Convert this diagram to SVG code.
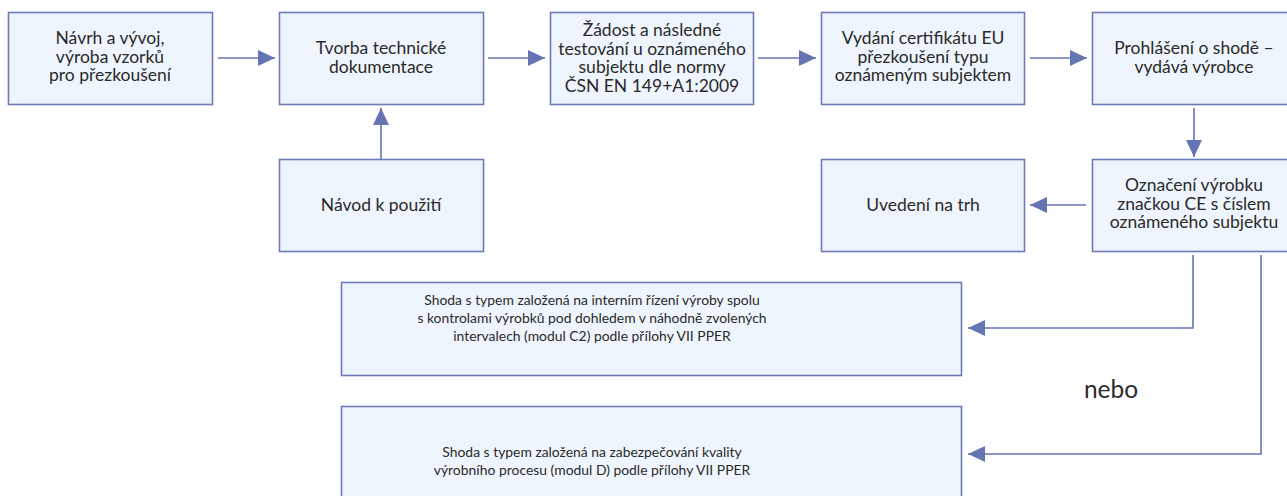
<svg xmlns="http://www.w3.org/2000/svg" width="1287" height="496" viewBox="0 0 1287 496">
<defs>
<style>
.box{fill:#eef5fc;stroke:#6c7bb6;stroke-width:1.6}
.t{font-family:Lato,"Open Sans","Liberation Sans",sans-serif;font-size:17.5px;fill:#2a2a2a;text-anchor:middle}
.s{font-family:Lato,"Open Sans","Liberation Sans",sans-serif;font-size:13.9px;fill:#2a2a2a;text-anchor:middle}
.n{font-family:Lato,"Open Sans","Liberation Sans",sans-serif;font-size:24.5px;fill:#2a2a2a;text-anchor:middle}
.c{fill:none;stroke:#6574b3;stroke-width:1.6}
</style>
<marker id="ah" viewBox="0 0 17 16" refX="17" refY="8" markerWidth="17" markerHeight="16" markerUnits="userSpaceOnUse" orient="auto">
<path d="M0,0 L17,8 L0,16 Z" fill="#6574b3"/>
</marker>
</defs>
<rect width="1287" height="496" fill="#fff"/>
<g id="n1"><rect class="box" x="8.5" y="12.5" width="204" height="92"/>
<text class="t" x="110" y="44">Návrh a vývoj,</text><text class="t" x="110" y="62.5">výroba vzorků</text><text class="t" x="110" y="81">pro přezkoušení</text></g>
<g id="n2"><rect class="box" x="279.5" y="12.5" width="204" height="92"/>
<text class="t" x="381" y="54">Tvorba technické</text><text class="t" x="381" y="72.5">dokumentace</text></g>
<g id="n3"><rect class="box" x="550.5" y="12.5" width="203" height="92"/>
<text class="t" x="652" y="36">Žádost a následné</text><text class="t" x="652" y="54.5">testování u oznámeného</text><text class="t" x="652" y="73">subjektu dle normy</text><text class="t" x="652" y="91.5">ČSN EN 149+A1:2009</text></g>
<g id="n4"><rect class="box" x="821.5" y="12.5" width="203" height="92"/>
<text class="t" x="923" y="44">Vydání certifikátu EU</text><text class="t" x="923" y="62.5">přezkoušení typu</text><text class="t" x="923" y="81">oznámeným subjektem</text></g>
<g id="n5"><rect class="box" x="1092.5" y="12.5" width="204" height="92"/>
<text class="t" x="1194" y="54">Prohlášení o shodě –</text><text class="t" x="1194" y="72.5">vydává výrobce</text></g>
<g id="n6"><rect class="box" x="279.5" y="159.5" width="204" height="92"/>
<text class="t" x="381" y="211">Návod k použití</text></g>
<g id="n7"><rect class="box" x="821.5" y="159.5" width="203" height="92"/>
<text class="t" x="923" y="211">Uvedení na trh</text></g>
<g id="n8"><rect class="box" x="1092.5" y="159.5" width="204" height="92"/>
<text class="t" x="1194" y="191">Označení výrobku</text><text class="t" x="1194" y="209.5">značkou CE s číslem</text><text class="t" x="1194" y="228">oznámeného subjektu</text></g>
<g id="n9"><rect class="box" x="341.5" y="282.5" width="620" height="93"/>
<text class="s" x="592" y="305">Shoda s typem založená na interním řízení výroby spolu</text><text class="s" x="592" y="323">s kontrolami výrobků pod dohledem v náhodně zvolených</text><text class="s" x="592" y="341">intervalech (modul C2) podle přílohy VII PPER</text></g>
<g id="n10"><rect class="box" x="341.5" y="406.5" width="620" height="93"/>
<text class="s" x="592" y="457">Shoda s typem založená na zabezpečování kvality</text><text class="s" x="592" y="475">výrobního procesu (modul D) podle přílohy VII PPER</text></g>
<g id="lbl"><text class="n" x="1111" y="398">nebo</text></g>
<g id="connectors">
<line class="c" x1="218" y1="58" x2="275" y2="58" marker-end="url(#ah)"/>
<line class="c" x1="488" y1="58" x2="545" y2="58" marker-end="url(#ah)"/>
<line class="c" x1="758" y1="58" x2="816" y2="58" marker-end="url(#ah)"/>
<line class="c" x1="1030" y1="58" x2="1087" y2="58" marker-end="url(#ah)"/>
<line class="c" x1="1194" y1="108" x2="1194" y2="157" marker-end="url(#ah)"/>
<line class="c" x1="381" y1="159" x2="381" y2="108" marker-end="url(#ah)"/>
<line class="c" x1="1086" y1="205" x2="1030" y2="205" marker-end="url(#ah)"/>
<polyline class="c" points="1193,255 1193,328 968,328" marker-end="url(#ah)"/>
<polyline class="c" points="1261,255 1261,454 968,454" marker-end="url(#ah)"/>
</g>
</svg>
